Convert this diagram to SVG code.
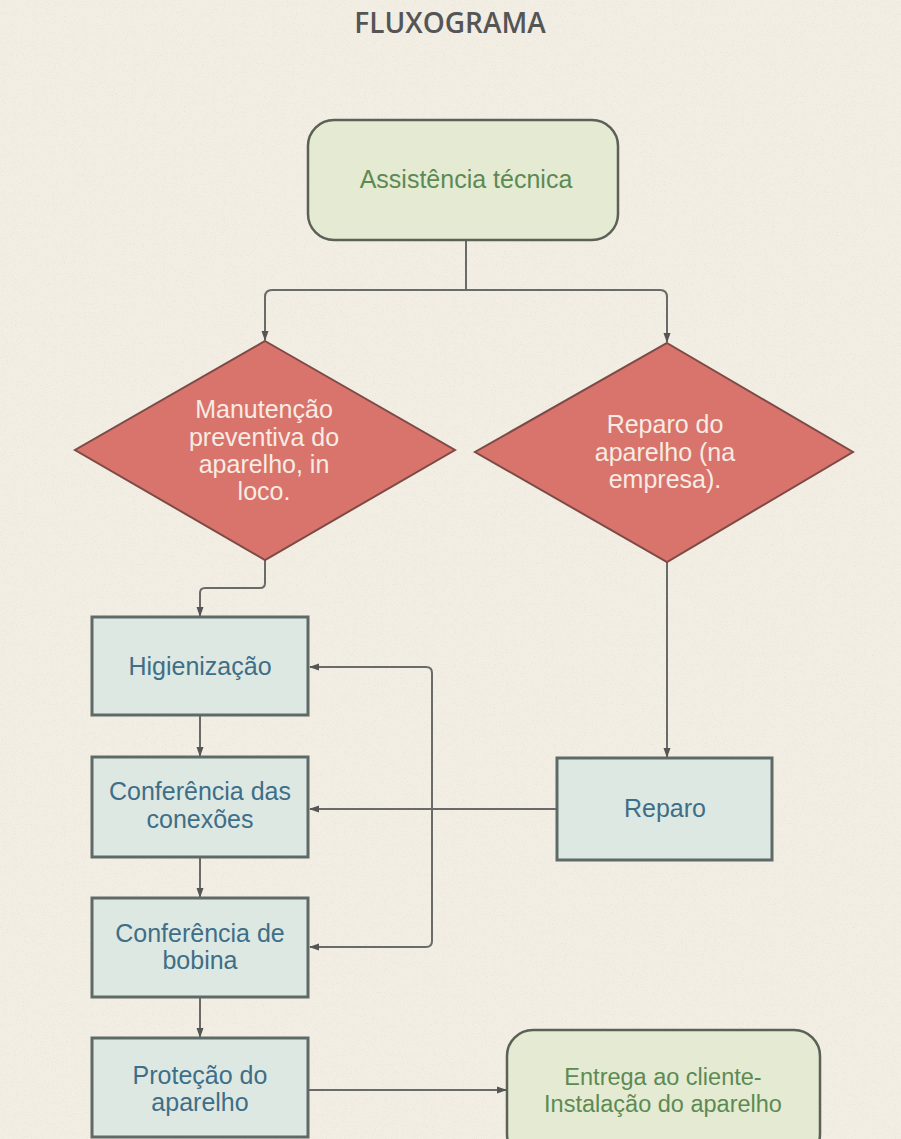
<svg xmlns="http://www.w3.org/2000/svg" width="901" height="1139" viewBox="0 0 901 1139">
  <defs>
    <marker id="arr" markerUnits="userSpaceOnUse" markerWidth="10" markerHeight="10" viewBox="0 0 10 10" refX="9" refY="5" orient="auto">
      <path d="M0,1.5 L10,5 L0,8.5 Z" fill="#555"/>
    </marker>
    <filter id="paper" x="0" y="0" width="100%" height="100%">
      <feTurbulence type="fractalNoise" baseFrequency="0.9" numOctaves="2" seed="3"/>
      <feColorMatrix type="matrix" values="0 0 0 0 0.55  0 0 0 0 0.5  0 0 0 0 0.42  0 0 0 -1.6 0.75"/>
    </filter>
  </defs>
  <style>
    .title { font-family: "Open Sans", "Liberation Sans", sans-serif; font-weight: 600; font-size: 28px; fill: #555; }
    .t { font-family: "Liberation Sans", Arial, sans-serif; font-size: 25px; text-anchor: middle; }
    .sm { font-size: 23.5px; }
    .green { fill: #5c8a52; }
    .white { fill: #f7ebe4; }
    .blue { fill: #3f6e87; }
    .term { fill: #e5ead3; stroke: #5b6157; stroke-width: 2.5; }
    .dec { fill: #d8746b; stroke: #7d4a45; stroke-width: 2; }
    .proc { fill: #dde8e3; stroke: #5e6a67; stroke-width: 3; }
    .conn { fill: none; stroke: #6a6a6a; stroke-width: 2; }
  </style>
  <rect width="901" height="1139" fill="#f2eee4"/>
  <rect width="901" height="1139" filter="url(#paper)" opacity="0.35"/>

  <text class="title" x="450" y="33" text-anchor="middle">FLUXOGRAMA</text>

  <g id="connectors">
    <path class="conn" d="M466,240 V290"/>
    <path class="conn" d="M466,290 H272 Q265,290 265,297 V340" marker-end="url(#arr)"/>
    <path class="conn" d="M466,290 H660 Q667,290 667,297 V342" marker-end="url(#arr)"/>
    <path class="conn" d="M265,560 V583 Q265,588 260,588 H205 Q200,588 200,593 V616" marker-end="url(#arr)"/>
    <path class="conn" d="M200,715 V756" marker-end="url(#arr)"/>
    <path class="conn" d="M200,857 V897" marker-end="url(#arr)"/>
    <path class="conn" d="M200,997 V1037" marker-end="url(#arr)"/>
    <path class="conn" d="M667,562 V757" marker-end="url(#arr)"/>
    <path class="conn" d="M557,809 H310" marker-end="url(#arr)"/>
    <path class="conn" d="M432,809 V673 Q432,667 426,667 H310" marker-end="url(#arr)"/>
    <path class="conn" d="M432,809 V941 Q432,947 426,947 H310" marker-end="url(#arr)"/>
    <path class="conn" d="M308,1090 H506" marker-end="url(#arr)"/>
  </g>

  <g id="n-assistencia">
    <rect class="term" x="308" y="120" width="310" height="120" rx="26"/>
    <text class="t green" x="466" y="188">Assistência técnica</text>
  </g>

  <g id="n-manutencao">
    <polygon class="dec" points="265,341 455,450 265,560 75,450"/>
    <text class="t white" x="264" y="418">Manutenção</text>
    <text class="t white" x="264" y="446">preventiva do</text>
    <text class="t white" x="264" y="473">aparelho, in</text>
    <text class="t white" x="264" y="500">loco.</text>
  </g>

  <g id="n-reparo-aparelho">
    <polygon class="dec" points="667,343 853,452 667,562 475,452"/>
    <text class="t white" x="665" y="433">Reparo do</text>
    <text class="t white" x="665" y="461">aparelho (na</text>
    <text class="t white" x="665" y="488">empresa).</text>
  </g>

  <g id="n-higienizacao">
    <rect class="proc" x="92" y="617" width="216" height="98"/>
    <text class="t blue" x="200" y="675">Higienização</text>
  </g>

  <g id="n-conexoes">
    <rect class="proc" x="92" y="757" width="216" height="100"/>
    <text class="t blue" x="200" y="800">Conferência das</text>
    <text class="t blue" x="200" y="828">conexões</text>
  </g>

  <g id="n-bobina">
    <rect class="proc" x="92" y="898" width="216" height="99"/>
    <text class="t blue" x="200" y="942">Conferência de</text>
    <text class="t blue" x="200" y="969">bobina</text>
  </g>

  <g id="n-protecao">
    <rect class="proc" x="92" y="1038" width="216" height="99"/>
    <text class="t blue" x="200" y="1084">Proteção do</text>
    <text class="t blue" x="200" y="1111">aparelho</text>
  </g>

  <g id="n-reparo">
    <rect class="proc" x="557" y="758" width="215" height="102"/>
    <text class="t blue" x="665" y="817">Reparo</text>
  </g>

  <g id="n-entrega">
    <rect class="term" x="507" y="1030" width="313" height="130" rx="26"/>
    <text class="t sm green" x="663" y="1085">Entrega ao cliente-</text>
    <text class="t sm green" x="663" y="1112">Instalação do aparelho</text>
  </g>
</svg>
